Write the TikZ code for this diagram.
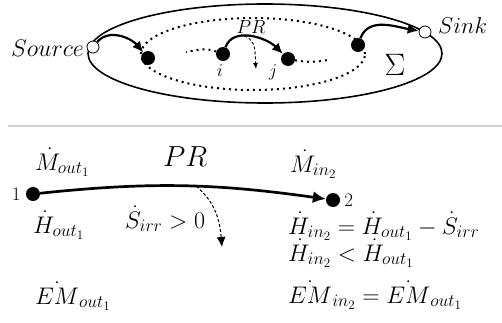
\RequirePackage{fix-cm}
\documentclass[tikz,border=0pt]{standalone}
\usetikzlibrary{arrows.meta}
\DeclareMathSizes{24}{24}{17.5}{13}
\begin{document}
\begin{tikzpicture}[x=1pt,y=1pt,
  blk/.style={circle,fill=black,minimum size=14pt,inner sep=0pt},
  opn/.style={circle,draw,fill=white,minimum size=12pt,inner sep=0pt,line width=0.8pt},
  thick arrow/.style={line width=2.2pt,-{Latex[length=11pt,width=10pt]}},
  main arrow/.style={line width=2.7pt,-{Latex[length=13pt,width=12pt]}},
  dash arrow/.style={line width=1pt,dash pattern=on 3pt off 2pt,-{Latex[length=10pt,width=9pt]}},
  dotline/.style={line width=2pt,dash pattern=on 2pt off 4pt},
  eq/.style={font=\fontsize{24}{28}\selectfont,inner sep=0pt,anchor=base west},
  lbl/.style={inner sep=0pt}]
\useasboundingbox (0,0) rectangle (502,322);
% top part shapes
\draw[line width=1.6pt] (265,268.5) ellipse [x radius=177,y radius=49.5];
\draw[dotline] (253,268) ellipse [x radius=112,y radius=36];
% nodes top
\node[opn] (src) at (93,275) {};
\node[opn] (snk) at (425,290) {};
\node[blk] (L) at (148,264) {};
\node[blk] (ni) at (223,268) {};
\node[blk] (nj) at (288,263) {};
\node[blk] (R) at (358,277) {};
\coordinate (d1) at (186,270);
\coordinate (d2) at (328,262);
\node[lbl,anchor=east,font=\fontsize{24}{28}\selectfont] (tsrc) at (84,274) {$Source$};
\node[lbl,anchor=west,font=\fontsize{23}{27}\selectfont] (tsnk) at (438,296) {$Sink$};
\node[lbl,font=\fontsize{19}{22}\selectfont] (tpr) at (251,295) {$PR$};
\node[lbl,font=\fontsize{18}{21}\selectfont] (ti) at (220,251) {$i$};
\node[lbl,font=\fontsize{18}{21}\selectfont] (tj) at (273,250) {$j$};
\node[lbl,font=\fontsize{31}{35}\selectfont] (tsig) at (395,257) {$\Sigma$};
% top connectors
\draw[thick arrow] (src) to[out=50,in=130] (L);
\draw[thick arrow] (ni) to[out=70,in=135] coordinate[pos=0.4] (pa) (nj);
\draw[thick arrow] (R) to[out=70,in=170] (snk);
\draw[dash arrow,line width=0.9pt,-{Latex[length=6pt,width=5pt]}] (pa) to[out=-20,in=95] (256,253);
\draw[dotline] (ni) to[out=160,in=10] (d1);
\draw[dotline] (nj) to[out=-10,in=190] (d2);
% separator
\draw[black!18,line width=1.5pt] (8,196) -- (502,196);
% bottom part
\node[blk] (n1) at (33,128) {};
\node[blk] (n2) at (333,122) {};
\node[lbl,anchor=east,font=\fontsize{19}{22}\selectfont] (t1) at ([xshift=-5pt]n1.west) {1};
\node[lbl,anchor=west,font=\fontsize{19}{22}\selectfont] (t2) at ([xshift=4pt]n2.east) {2};
\draw[main arrow] (n1) to[out=6,in=172] coordinate[pos=0.55] (pb) (n2);
\coordinate (db) at (222,75);
\draw[dash arrow] (pb) to[out=-40,in=95] (db);
\node[eq] (mout) at (35,152) {$\dot M_{out_1}$};
\node[eq] (hout) at (33,89) {$\dot H_{out_1}$};
\node[eq] (emout) at (35,18) {$\dot{EM}_{out_1}$};
\node[eq,font=\fontsize{29}{34}\selectfont] (bpr) at (163,156) {$PR$};
\node[eq] (min) at (290,150) {$\dot M_{in_2}$};
\node[eq] (sirr) at (125,94) {$\dot S_{irr} > 0$};
\node[eq] (e1) at (288,88) {$\dot H_{in_2} = \dot H_{out_1} - \dot S_{irr}$};
\node[eq] (e2) at (288,61) {$\dot H_{in_2} < \dot H_{out_1}$};
\node[eq] (e3) at (288,19) {$\dot{EM}_{in_2} = \dot{EM}_{out_1}$};
\end{tikzpicture}
\end{document}
